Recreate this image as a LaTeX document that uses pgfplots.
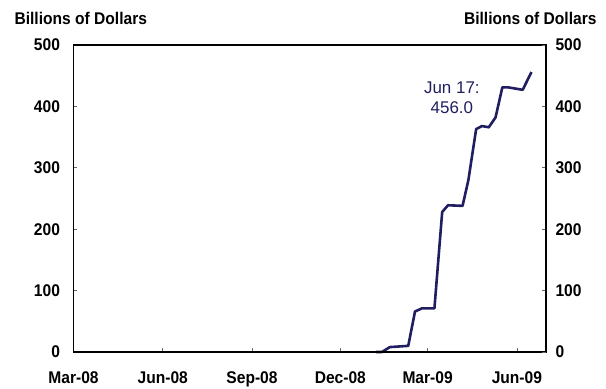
\documentclass[border=0pt]{standalone}
\usepackage{pgfplots}
\pgfplotsset{compat=1.18}
\usepackage{fontspec}
\setmainfont{Liberation Sans}
\newfontfamily\tickfont{Liberation Sans}[FakeStretch=0.92]
\definecolor{navy}{RGB}{32,30,96}
\begin{document}
\begin{tikzpicture}
\useasboundingbox (-73.5bp,-37bp) rectangle (532.5bp,352bp);
\pgfplotsset{
  common/.style={
    at={(0,0)}, anchor=south west, scale only axis,
    width=472.5bp, height=307bp,
    xmin=0, xmax=487, ymin=0, ymax=500,
    ytick={0,100,200,300,400,500},
    tick align=inside,
    major tick length=4bp,
    tick style={gray!80!black, line width=0.6bp},
    ticklabel style={font=\tickfont\bfseries\fontsize{17}{17}\selectfont, text=black},
    /pgf/number format/assume math mode=true,
  }
}
\begin{axis}[common,
  xtick={0,92,184,275,365,457},
  xticklabels={Mar-08,Jun-08,Sep-08,Dec-08,Mar-09,Jun-09},
  xtick pos=left, ytick pos=left,
  xticklabel style={yshift=-16bp},
  yticklabel style={xshift=-10bp},
  axis line style={black, line width=1.2bp},
  clip=false,
]
\addplot[navy, line width=2.6bp, line join=round] coordinates {
(312,0) (318,0) (326,8) (345,10) (352,66) (359,71) (372,71) (380,228)
(386,239) (401,238) (407,280) (415,363) (421,368) (428,366) (435,382)
(442,431) (448,431) (463,427) (472,456)
};
\node[text=navy, align=center, font=\fontsize{17}{20}\selectfont] at (axis cs:390,414) {Jun 17:\\456.0};
\draw[black, line width=1.8bp] (axis cs:0,0) -- (axis cs:487,0);
\end{axis}
\begin{axis}[common,
  axis y line*=right, axis x line=none,
  ytick pos=right,
  yticklabel style={anchor=west, xshift=6bp},
  axis line style={black, line width=1.2bp},
]
\end{axis}
\node[anchor=west, font=\tickfont\bfseries\fontsize{17}{17}\selectfont] at (-62.5bp,334bp) {Billions of Dollars};
\node[anchor=east, font=\tickfont\bfseries\fontsize{17}{17}\selectfont] at (526.5bp,334bp) {Billions of Dollars};
\end{tikzpicture}
\end{document}
